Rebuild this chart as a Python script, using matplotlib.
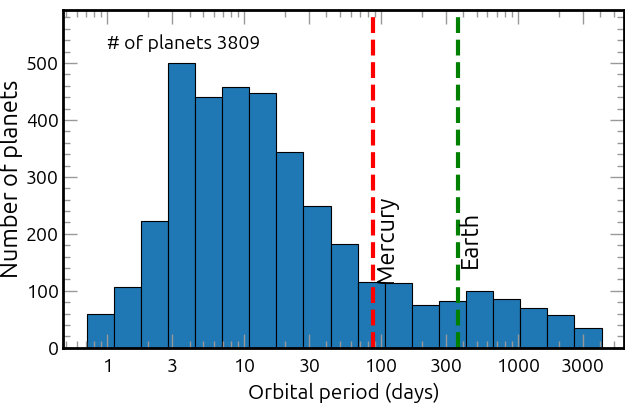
import numpy as np
import matplotlib
matplotlib.use("Agg")
import matplotlib.pyplot as plt
from matplotlib.ticker import FixedLocator, MultipleLocator, NullFormatter

# histogram of orbital periods (bins equal in log10)
bin_edges = [0.708, 1.117, 1.762, 2.780, 4.385, 6.918, 10.91, 17.22, 27.16, 42.85,
             67.61, 106.7, 168.3, 265.5, 418.8, 660.7, 1042, 1644, 2594, 4093]
counts = [59, 106, 222, 500, 441, 458, 448, 344, 249, 182,
          116, 114, 76, 82, 100, 85, 70, 57, 35]

n_planets = 3809
mercury_period = 88
earth_period = 365

xticks = [1, 3, 10, 30, 100, 300, 1000, 3000]
xtick_labels = ["1", "3", "10", "30", "100", "300", "1000", "3000"]

plt.rcParams['font.family'] = ['Ubuntu', 'DejaVu Sans']

fig = plt.figure(figsize=(6.25, 4.03), dpi=100)
ax = fig.add_axes([0.101, 0.137, 0.897, 0.838])

widths = np.diff(bin_edges)
ax.bar(bin_edges[:-1], counts, width=widths, align='edge',
       color='#1f77b4', edgecolor='black', linewidth=0.8)

ax.axvline(mercury_period, color='red', ls='--', lw=3, dashes=(3.8, 1.6))
ax.axvline(earth_period, color='green', ls='--', lw=3, dashes=(3.8, 1.6))
ax.text(mercury_period, 114, 'Mercury', rotation=90, ha='left', va='bottom', fontsize=17)
ax.text(earth_period, 140, 'Earth', rotation=90, ha='left', va='bottom', fontsize=17)
ax.text(1.0, 535, '# of planets %d' % n_planets, fontsize=14, va='center')

ax.set_xscale('log')
ax.set_xlim(0.477, 5940)
ax.set_ylim(0, 593)

ax.xaxis.set_major_locator(FixedLocator(xticks))
ax.set_xticklabels(xtick_labels)
minor = [m * d for d in [0.1, 1, 10, 100, 1000] for m in [2, 4, 5, 6, 7, 8, 9]]
ax.xaxis.set_minor_locator(FixedLocator(minor))
ax.xaxis.set_minor_formatter(NullFormatter())
ax.yaxis.set_major_locator(MultipleLocator(100))
ax.yaxis.set_minor_locator(MultipleLocator(20))

ax.tick_params(which='both', direction='in', top=True, right=True, color='#999999',
               labelsize=14, width=1)
ax.tick_params(which='major', length=10)
ax.tick_params(which='minor', length=5)
ax.tick_params(axis='x', which='major', pad=7)
ax.tick_params(axis='y', which='major', pad=3)
for s in ax.spines.values():
    s.set_linewidth(2)
    s.set_zorder(5)

ax.set_xlabel('Orbital period (days)', fontsize=15, labelpad=5)
ax.set_ylabel('Number of planets', fontsize=17, labelpad=2)

fig.savefig('out.png', dpi=100)
